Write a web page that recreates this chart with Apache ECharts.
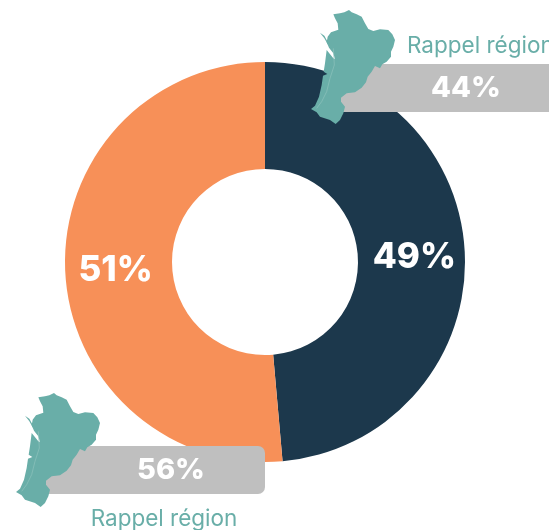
<!DOCTYPE html>
<html>
<head>
<meta charset="utf-8">
<style>
  html, body { margin: 0; padding: 0; background: #fff; }
  #myPie { width: 549px; height: 530px; }
</style>
<script src="https://cdn.jsdelivr.net/npm/echarts@6/dist/echarts.min.js"></script>
</head>
<body>
<div id="myPie"></div>
<script>
var categories = ["Dark", "Orange"];
// slice sizes read from the seam position, the printed labels are rounded
var values = [48.6, 51.4];
var valueLabels = ["49%", "51%"];
var regionValues = [44, 56];
var regionLabel = "Rappel région";

var FONT = "Inter, 'Noto Sans', sans-serif";
var TEAL = "#69aea8";
var GREY = "#bfbfbf";

// outline of the region, used twice (drawn at 1/3 scale)
var regionOutline = [
  [85,28],[105,25],[118,22],[132,15],[140,22],[155,28],[170,35],[180,55],[190,72],[205,78],
  [225,73],[250,75],[262,88],[270,105],[265,125],[258,140],[258,155],[245,170],[232,178],[225,190],
  [210,183],[200,200],[188,215],[183,232],[170,248],[150,262],[125,265],[108,278],[108,290],[120,305],
  [115,325],[105,345],[92,357],[75,345],[45,335],[35,322],[18,312],[30,302],[42,275],[50,240],
  [54,212],[67,207],[56,200],[60,175],[65,135],[85,160],[90,163],[85,145],[72,128],[65,112],
  [68,95],[78,82],[100,74],[98,55],[90,40]
];
var regionIsland = [[45,83],[58,92],[72,118],[68,118],[58,100]];
var regionRiver = [[85,130],[88,180],[75,220],[65,260],[50,290],[35,310]];

function regionMap(x, y) {
  return {
    type: "group",
    x: x,
    y: y,
    scaleX: 1 / 3,
    scaleY: 1 / 3,
    children: [
      { type: "polygon", z: 30, shape: { points: regionOutline }, style: { fill: TEAL } },
      { type: "polygon", z: 30, shape: { points: regionIsland }, style: { fill: TEAL } },
      { type: "polyline", z: 31, shape: { points: regionRiver }, style: { stroke: "#8fc3bd", lineWidth: 2, fill: null } }
    ]
  };
}

var chart = echarts.init(document.getElementById("myPie"), null, { renderer: "canvas" });
chart.setOption({
  backgroundColor: "#fff",
  animation: false,
  series: [
    {
      type: "pie",
      radius: [93, 200],
      center: [265, 262],
      startAngle: 90,
      clockwise: true,
      silent: true,
      data: [
        { name: categories[0], value: values[0], itemStyle: { color: "#1c384c" } },
        { name: categories[1], value: values[1], itemStyle: { color: "#f79058" } }
      ],
      label: {
        show: true,
        position: "inside",
        formatter: function (p) {
          return valueLabels[p.dataIndex];
        },
        color: "#fff",
        fontFamily: FONT,
        fontWeight: 800,
        fontSize: 35,
        offset: [0, 2]
      },
      labelLine: { show: false }
    }
  ],
  graphic: [
    // top right recall
    { type: "rect", z: 20, shape: { x: 340, y: 64, width: 209, height: 48 }, style: { fill: GREY } },
    { type: "text", z: 25, x: 466, y: 88, style: { text: regionValues[0] + "%", fill: "#fff", font: "800 29px " + FONT, textAlign: "center", textVerticalAlign: "middle" } },
    { type: "text", z: 25, x: 407, y: 46, style: { text: regionLabel, fill: TEAL, font: "400 22.5px " + FONT, textAlign: "left", textVerticalAlign: "middle" } },
    regionMap(305, 5),
    // bottom left recall
    { type: "rect", z: 20, shape: { x: 45, y: 446, width: 220, height: 48, r: [0, 7, 7, 0] }, style: { fill: GREY } },
    { type: "text", z: 25, x: 171, y: 470, style: { text: regionValues[1] + "%", fill: "#fff", font: "800 29px " + FONT, textAlign: "center", textVerticalAlign: "middle" } },
    { type: "text", z: 25, x: 164, y: 519, style: { text: regionLabel, fill: TEAL, font: "400 22.5px " + FONT, textAlign: "center", textVerticalAlign: "middle" } },
    regionMap(10, 388)
  ]
});
</script>
</body>
</html>
